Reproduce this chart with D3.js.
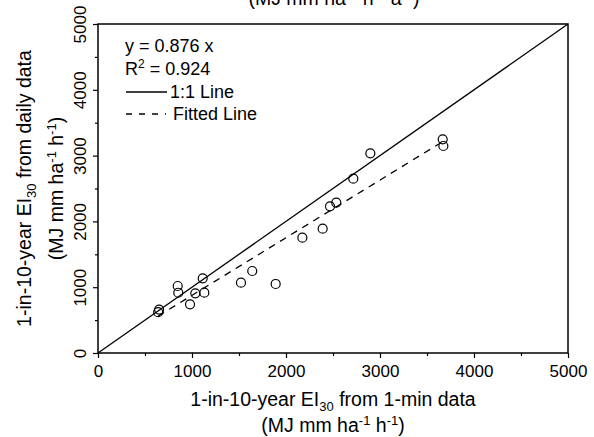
<!DOCTYPE html>
<html>
<head>
<meta charset="utf-8">
<script src="https://cdn.jsdelivr.net/npm/d3@7"></script>
<style>
  body { margin: 0; background: #fff; }
  svg { display: block; font-family: "Liberation Sans", Arial, sans-serif; }
</style>
</head>
<body>
<svg width="594" height="437"></svg>
<script>
// 1-in-10-year EI30: 1-min data (x) vs daily data (y)
const minuteEI = [650, 640, 848, 854, 979, 1035, 1114, 1131, 1521, 1641, 1890,
  2174, 2390, 2468, 2535, 2716, 2897, 3667, 3674];
const dailyEI = [660, 620, 1018, 916, 740, 907, 1135, 917, 1069, 1246, 1049,
  1752, 1889, 2229, 2284, 2649, 3035, 3247, 3146];
const slope = 0.876;
const axisTicks = [0, 1000, 2000, 3000, 4000, 5000];
const minorTicks = [500, 1500, 2500, 3500, 4500];

const svg = d3.select("svg");
const plotL = 98, plotR = 568, plotT = 24, plotB = 353;
const titleSize = 19.5, subSize = 13, tickSize = 17;

const x = d3.scaleLinear().domain([0, 5000]).range([plotL, plotR]);
const y = d3.scaleLinear().domain([0, 5000]).range([plotB, plotT]);

// unit text with superscripts, used for the axis titles and the cut-off line on top
function unitLabel(t, parts) {
  parts.forEach((p, i) => {
    t.append("tspan").text((i ? " " : "(") + p).attr("dy", i ? 7 : null);
    t.append("tspan").text("-1").attr("dy", -7).style("font-size", subSize + "px");
  });
  t.append("tspan").text(")").attr("dy", 7);
}
function eiLabel(t, tail) {
  t.append("tspan").text("1-in-10-year EI");
  t.append("tspan").text("30").attr("dy", 5).style("font-size", subSize + "px");
  t.append("tspan").text(tail).attr("dy", -5);
}

// text left over from the panel above (cut by the top edge)
svg.append("text")
  .attr("x", 334).attr("y", 5)
  .attr("text-anchor", "middle")
  .style("font-size", titleSize + "px")
  .call(t => unitLabel(t, ["MJ mm ha", "h", "a"]));

// axes
const xAxis = svg.append("g")
  .attr("transform", `translate(0,${plotB})`)
  .call(d3.axisBottom(x).tickValues(axisTicks).tickSize(5).tickPadding(7).tickFormat(d3.format("d")));
xAxis.select(".domain").remove();
xAxis.selectAll("text").style("font-size", tickSize + "px").attr("fill", "#000");

svg.append("g")
  .attr("transform", `translate(0,${plotB})`)
  .call(d3.axisBottom(x).tickValues(minorTicks).tickSize(3).tickFormat(""))
  .select(".domain").remove();

const yAxis = svg.append("g")
  .attr("transform", `translate(${plotL},0)`)
  .call(d3.axisLeft(y).tickValues(axisTicks).tickSize(5).tickFormat(d3.format("d")));
yAxis.select(".domain").remove();
yAxis.selectAll("text")
  .style("font-size", tickSize + "px")
  .attr("fill", "#000")
  .attr("text-anchor", "middle")
  .attr("x", null).attr("dy", null)
  .attr("transform", "translate(-12,0) rotate(-90)");

svg.append("g")
  .attr("transform", `translate(${plotL},0)`)
  .call(d3.axisLeft(y).tickValues(minorTicks).tickSize(3).tickFormat(""))
  .select(".domain").remove();

svg.selectAll(".tick line").attr("stroke", "#000").attr("stroke-width", 1.2);

// frame
svg.append("rect")
  .attr("x", plotL).attr("y", plotT)
  .attr("width", plotR - plotL).attr("height", plotB - plotT)
  .attr("fill", "none").attr("stroke", "#000").attr("stroke-width", 1.5);

// 1:1 line
svg.append("line")
  .attr("x1", x(0)).attr("y1", y(0))
  .attr("x2", x(5000)).attr("y2", y(5000))
  .attr("stroke", "#000").attr("stroke-width", 1.3);

// fitted line
const [xMin, xMax] = d3.extent(minuteEI);
svg.append("line")
  .attr("x1", x(xMin)).attr("y1", y(slope * xMin))
  .attr("x2", x(xMax)).attr("y2", y(slope * xMax))
  .attr("stroke", "#000").attr("stroke-width", 1.3)
  .attr("stroke-dasharray", "7,6");

// points
svg.append("g")
  .selectAll("circle")
  .data(minuteEI)
  .join("circle")
  .attr("cx", d => x(d))
  .attr("cy", (d, i) => y(dailyEI[i]))
  .attr("r", 4.5)
  .attr("fill", "none")
  .attr("stroke", "#000")
  .attr("stroke-width", 1.2);

// legend
const lg = svg.append("g").style("font-size", "18px");
lg.append("text").attr("x", 125).attr("y", 52).text(`y = ${slope} x`);
lg.append("text").attr("x", 125).attr("y", 75)
  .call(t => {
    t.append("tspan").text("R");
    t.append("tspan").text("2").attr("dy", -7).style("font-size", "12px");
    t.append("tspan").text(" = 0.924").attr("dy", 7);
  });
lg.append("line").attr("x1", 126).attr("x2", 167).attr("y1", 92).attr("y2", 92)
  .attr("stroke", "#000").attr("stroke-width", 1.3);
lg.append("text").attr("x", 170).attr("y", 98).text("1:1 Line");
lg.append("line").attr("x1", 126).attr("x2", 166).attr("y1", 114).attr("y2", 114)
  .attr("stroke", "#000").attr("stroke-width", 1.3).attr("stroke-dasharray", "6,7");
lg.append("text").attr("x", 173).attr("y", 120).text("Fitted Line");

// axis titles
const cx = (plotL + plotR) / 2;
svg.append("text").attr("x", cx).attr("y", 406)
  .attr("text-anchor", "middle").style("font-size", titleSize + "px")
  .call(t => eiLabel(t, " from 1-min data"));
svg.append("text").attr("x", cx).attr("y", 432)
  .attr("text-anchor", "middle").style("font-size", titleSize + "px")
  .call(t => unitLabel(t, ["MJ mm ha", "h"]));

const cy = (plotT + plotB) / 2;
svg.append("text")
  .attr("transform", `translate(31,${cy}) rotate(-90)`)
  .attr("text-anchor", "middle").style("font-size", titleSize + "px")
  .call(t => eiLabel(t, " from daily data"));
svg.append("text")
  .attr("transform", `translate(63,${cy}) rotate(-90)`)
  .attr("text-anchor", "middle").style("font-size", titleSize + "px")
  .call(t => unitLabel(t, ["MJ mm ha", "h"]));
</script>
</body>
</html>
